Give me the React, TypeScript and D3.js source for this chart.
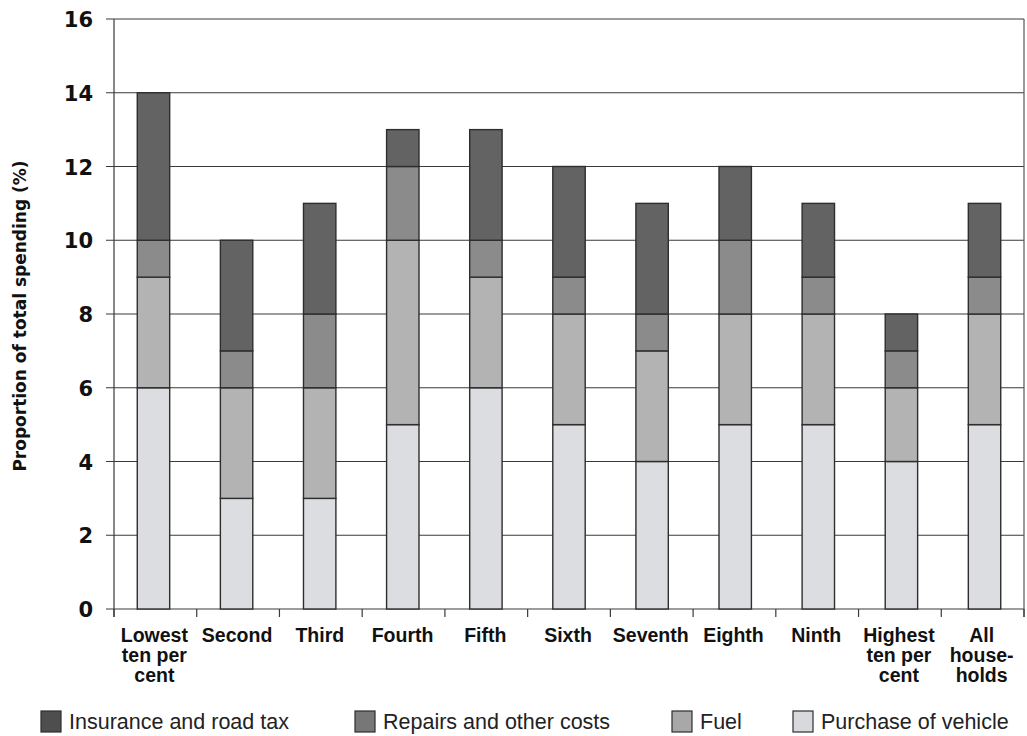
import React from "react";
import * as d3 from "d3";

const categories: string[][] = [
  ["Lowest", "ten per", "cent"],
  ["Second"],
  ["Third"],
  ["Fourth"],
  ["Fifth"],
  ["Sixth"],
  ["Seventh"],
  ["Eighth"],
  ["Ninth"],
  ["Highest", "ten per", "cent"],
  ["All", "house-", "holds"],
];
const purchase = [6, 3, 3, 5, 6, 5, 4, 5, 5, 4, 5];
const fuel = [3, 3, 3, 5, 3, 3, 3, 3, 3, 2, 3];
const repairs = [1, 1, 2, 2, 1, 1, 1, 2, 1, 1, 1];
const insurance = [4, 3, 3, 1, 3, 3, 3, 2, 2, 1, 2];
const seriesNames = ["Purchase of vehicle", "Fuel", "Repairs and other costs", "Insurance and road tax"];
const legendOrder = ["Insurance and road tax", "Repairs and other costs", "Fuel", "Purchase of vehicle"];
const yTicks = [0, 2, 4, 6, 8, 10, 12, 14, 16];

const colors: Record<string, string> = {
  "Purchase of vehicle": "#dcdde0",
  Fuel: "#b3b3b3",
  "Repairs and other costs": "#8b8b8b",
  "Insurance and road tax": "#636363",
};
const legendColors: Record<string, string> = {
  "Purchase of vehicle": "#d8d9dc",
  Fuel: "#a8a8a8",
  "Repairs and other costs": "#777777",
  "Insurance and road tax": "#4e4e4e",
};

export default function App() {
  const W = 1027, H = 736;
  const left = 114, right = 1024, top = 19, bottom = 609;
  const x = d3.scaleBand<number>().domain(d3.range(categories.length)).range([left, right]).paddingInner(0.61).paddingOuter(0.28);
  const xb = d3.scaleBand<number>().domain(d3.range(categories.length)).range([left, right]);
  const y = d3.scaleLinear().domain([0, 16]).range([bottom, top]);
  const data = categories.map((_, i) => ({
    i,
    "Purchase of vehicle": purchase[i],
    Fuel: fuel[i],
    "Repairs and other costs": repairs[i],
    "Insurance and road tax": insurance[i],
  }));
  const stack = d3.stack<any>().keys(seriesNames)(data);
  const font = "'Liberation Sans', Arial, sans-serif";
  const boldFont = "'DejaVu Sans', sans-serif";
  const legendX = [41, 355, 672, 793];

  return (
    <svg width={W} height={H} style={{ position: "absolute", left: 0, top: 0, background: "#fff" }}>
      <rect x={0} y={0} width={W} height={H} fill="#fff" />
      {yTicks.map((t) => (
        <g key={t}>
          <line x1={left - 8} x2={right} y1={y(t)} y2={y(t)} stroke="#3a3a3a" strokeWidth={1.2} />
          <text x={93} y={y(t) + 8} textAnchor="end" fontFamily={boldFont} fontWeight="bold" fontSize={21} fill="#111">
            {t}
          </text>
        </g>
      ))}
      <line x1={left} x2={left} y1={top} y2={bottom + 8} stroke="#3a3a3a" strokeWidth={1.2} />
      <line x1={right} x2={right} y1={top} y2={bottom + 8} stroke="#555" strokeWidth={1.2} />
      {d3.range(categories.length + 1).map((k) => {
        const xx = k < categories.length ? (xb(k) as number) : right;
        return <line key={k} x1={xx} x2={xx} y1={bottom} y2={bottom + 8} stroke="#3a3a3a" strokeWidth={1.2} />;
      })}
      {stack.map((s) => (
        <g key={s.key}>
          {s.map((d, i) => (
            <rect
              key={i}
              x={x(i)}
              width={x.bandwidth()}
              y={y(d[1])}
              height={y(d[0]) - y(d[1])}
              fill={colors[s.key]}
              stroke="#2e2e2e"
              strokeWidth={1.4}
            />
          ))}
        </g>
      ))}
      {categories.map((lines, i) => (
        <text key={i} textAnchor="middle" fontFamily={font} fontWeight="bold" fontSize={19.5} fill="#111">
          {lines.map((ln, j) => (
            <tspan key={j} x={(xb(i) as number) + xb.bandwidth() / 2 - 1} y={642 + j * 20}>
              {ln}
            </tspan>
          ))}
        </text>
      ))}
      <text
        transform={`translate(26,316) rotate(-90)`}
        textAnchor="middle"
        fontFamily={boldFont}
        fontWeight="bold"
        fontSize={17}
        fill="#111"
      >
        Proportion of total spending (%)
      </text>
      {legendOrder.map((name, k) => (
        <g key={name}>
          <rect x={legendX[k]} y={711} width={20} height={21} fill={legendColors[name]} stroke="#2e2e2e" strokeWidth={1.2} />
          <text x={legendX[k] + 28} y={729} fontFamily={font} fontSize={21.5} fill="#222">
            {name}
          </text>
        </g>
      ))}
    </svg>
  );
}
